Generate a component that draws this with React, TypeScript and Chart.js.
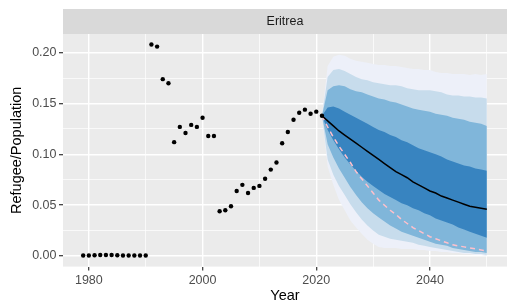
import React, { useEffect, useRef } from "react";
import { Chart, registerables } from "chart.js";

Chart.register(...registerables);

// ---------- data ----------
const PANEL_TITLE = "Eritrea";
const X_TITLE = "Year";
const Y_TITLE = "Refugee/Population";

const OBS_YEARS = [
  1979, 1980, 1981, 1982, 1983, 1984, 1985, 1986, 1987, 1988, 1989, 1990,
  1991, 1992, 1993, 1994, 1995, 1996, 1997, 1998, 1999, 2000, 2001, 2002,
  2003, 2004, 2005, 2006, 2007, 2008, 2009, 2010, 2011, 2012, 2013, 2014,
  2015, 2016, 2017, 2018, 2019, 2020, 2021,
];
const OBS_VALUES = [
  0.0005, 0.0005, 0.0008, 0.001, 0.001, 0.001, 0.0008, 0.0005, 0.0005, 0.0005, 0.0005, 0.0005,
  0.208, 0.206, 0.174, 0.17, 0.112, 0.127, 0.121, 0.129, 0.127, 0.136, 0.118, 0.118,
  0.044, 0.045, 0.049, 0.064, 0.07, 0.062, 0.067, 0.069, 0.076, 0.085, 0.092, 0.111,
  0.122, 0.134, 0.141, 0.144, 0.14, 0.142, 0.138,
];

const FC_YEARS = [
  2021, 2022, 2023, 2024, 2025, 2026, 2027, 2028, 2029, 2030,
  2031, 2032, 2033, 2034, 2035, 2036, 2037, 2038, 2039, 2040,
  2041, 2042, 2043, 2044, 2045, 2046, 2047, 2048, 2049, 2050,
];
const MEDIAN = [
  0.138, 0.133, 0.128, 0.123, 0.119, 0.115, 0.111, 0.107, 0.103, 0.099,
  0.095, 0.091, 0.087, 0.083, 0.08, 0.077, 0.073, 0.07, 0.067, 0.064,
  0.062, 0.059, 0.057, 0.055, 0.053, 0.051, 0.049, 0.048, 0.047, 0.046,
];
const PINK_LINE = [
  0.138, 0.127, 0.117, 0.108, 0.1, 0.092, 0.083, 0.076, 0.069, 0.062,
  0.055, 0.05, 0.045, 0.041, 0.036, 0.032, 0.028, 0.025, 0.022, 0.019,
  0.017, 0.015, 0.013, 0.011, 0.01, 0.009, 0.008, 0.007, 0.006, 0.005,
];
const OUTER_HI = [
  0.138, 0.187, 0.196, 0.198, 0.197, 0.194, 0.192, 0.191, 0.19, 0.189,
  0.188, 0.188, 0.187, 0.187, 0.186, 0.185, 0.184, 0.184, 0.183, 0.183,
  0.181, 0.18, 0.18, 0.179, 0.179, 0.179, 0.178, 0.179, 0.178, 0.179,
];
const LIGHT_HI = [
  0.138, 0.176, 0.183, 0.184, 0.182, 0.179, 0.176, 0.174, 0.173, 0.171,
  0.17, 0.169, 0.168, 0.168, 0.167, 0.165, 0.164, 0.163, 0.163, 0.163,
  0.162, 0.161, 0.159, 0.158, 0.158, 0.157, 0.157, 0.156, 0.156, 0.155,
];
const MED_HI = [
  0.138, 0.163, 0.167, 0.168, 0.167, 0.164, 0.162, 0.161, 0.159, 0.157,
  0.155, 0.154, 0.152, 0.151, 0.149, 0.147, 0.145, 0.144, 0.143, 0.142,
  0.14, 0.139, 0.138, 0.136, 0.135, 0.134, 0.132, 0.131, 0.13, 0.128,
];
const DARK_HI = [
  0.138, 0.146, 0.147, 0.145, 0.142, 0.139, 0.136, 0.133, 0.13, 0.127,
  0.124, 0.122, 0.119, 0.117, 0.114, 0.112, 0.109, 0.106, 0.104, 0.102,
  0.1, 0.098, 0.095, 0.093, 0.091, 0.089, 0.088, 0.086, 0.085, 0.084,
];
const DARK_LO = [
  0.138, 0.124, 0.114, 0.105, 0.097, 0.09, 0.084, 0.078, 0.073, 0.069,
  0.065, 0.061, 0.058, 0.055, 0.052, 0.05, 0.047, 0.045, 0.042, 0.04,
  0.037, 0.035, 0.033, 0.031, 0.028, 0.026, 0.024, 0.022, 0.02, 0.018,
];
const MED_LO = [
  0.138, 0.11, 0.097, 0.086, 0.077, 0.068, 0.06, 0.053, 0.047, 0.042,
  0.038, 0.034, 0.03, 0.027, 0.024, 0.022, 0.02, 0.018, 0.016, 0.014,
  0.012, 0.011, 0.01, 0.008, 0.007, 0.006, 0.005, 0.004, 0.004, 0.003,
];
const LIGHT_LO = [
  0.138, 0.095, 0.08, 0.069, 0.06, 0.051, 0.043, 0.036, 0.03, 0.025,
  0.021, 0.019, 0.017, 0.016, 0.015, 0.014, 0.013, 0.011, 0.01, 0.009,
  0.008, 0.007, 0.006, 0.005, 0.004, 0.003, 0.003, 0.002, 0.002, 0.001,
];
const OUTER_LO = [
  0.138, 0.088, 0.07, 0.055, 0.045, 0.035, 0.028, 0.022, 0.016, 0.012,
  0.009, 0.008, 0.008, 0.008, 0.007, 0.007, 0.007, 0.006, 0.006, 0.005,
  0.005, 0.004, 0.004, 0.003, 0.003, 0.002, 0.002, 0.001, 0.001, 0.0,
];

const X_MAJOR = [1980, 2000, 2020, 2040];
const X_MINOR = [1990, 2010, 2030, 2050];
const Y_MAJOR = [0, 0.05, 0.1, 0.15, 0.2];
const Y_MAJOR_LABELS = ["0.00", "0.05", "0.10", "0.15", "0.20"];
const Y_MINOR = [0.025, 0.075, 0.125, 0.175];

// ---------- styling ----------
const FONT = "'Liberation Sans', Arial, Helvetica, sans-serif";
const X_MIN = 1975.45;
const X_MAX = 2053.55;
const Y_MIN = -0.0104;
const Y_MAX = 0.2184;

const pts = (xs: number[], ys: number[]) => xs.map((x, i) => ({ x, y: ys[i] }));
const isMajor = (v: number, arr: number[]) => arr.some((m) => Math.abs(m - v) < 1e-9);

const bgPlugin = {
  id: "ggbg",
  beforeDraw(chart: any) {
    const { ctx, chartArea } = chart;
    ctx.save();
    ctx.fillStyle = "#FFFFFF";
    ctx.fillRect(0, 0, chart.width, chart.height);
    ctx.fillStyle = "#EBEBEB";
    ctx.fillRect(chartArea.left, chartArea.top, chartArea.right - chartArea.left, chartArea.bottom - chartArea.top);
    ctx.fillStyle = "#D9D9D9";
    ctx.fillRect(chartArea.left, 9, chartArea.right - chartArea.left, chartArea.top - 9);
    ctx.fillStyle = "#1A1A1A";
    ctx.font = `12.5px ${FONT}`;
    ctx.textAlign = "center";
    ctx.textBaseline = "middle";
    ctx.fillText(PANEL_TITLE, (chartArea.left + chartArea.right) / 2, (9 + chartArea.top) / 2 + 0.5);
    ctx.restore();
  },
};

function band(hi: number[], lo: number[], color: string, hiIndex: number, order: number) {
  return [
    {
      data: pts(FC_YEARS, hi),
      borderWidth: 0,
      pointRadius: 0,
      backgroundColor: color,
      borderColor: color,
      fill: hiIndex + 1,
      tension: 0,
      order,
    },
    {
      data: pts(FC_YEARS, lo),
      borderWidth: 0,
      pointRadius: 0,
      backgroundColor: color,
      borderColor: color,
      fill: false,
      tension: 0,
      order,
    },
  ];
}

export default function App() {
  const ref = useRef<HTMLCanvasElement | null>(null);

  useEffect(() => {
    if (!ref.current) return;
    const datasets: any[] = [
      {
        data: pts(OBS_YEARS, OBS_VALUES),
        showLine: false,
        pointRadius: 2.2,
        pointBorderWidth: 0,
        pointBackgroundColor: "#000000",
        pointBorderColor: "#000000",
        fill: false,
        order: 0,
      },
      {
        data: pts(FC_YEARS, MEDIAN),
        borderColor: "#000000",
        borderWidth: 1.5,
        pointRadius: 0,
        fill: false,
        tension: 0,
        order: 1,
      },
      {
        data: pts(FC_YEARS, PINK_LINE),
        borderColor: "#FFC0CB",
        borderWidth: 1.5,
        borderDash: [5, 4],
        pointRadius: 0,
        fill: false,
        tension: 0,
        order: 2,
      },
      ...band(DARK_HI, DARK_LO, "#3884C0", 3, 3),
      ...band(MED_HI, MED_LO, "#80B6DA", 5, 4),
      ...band(LIGHT_HI, LIGHT_LO, "#C7DCEC", 7, 5),
      ...band(OUTER_HI, OUTER_LO, "#EDF0F9", 9, 6),
    ];

    const chart = new Chart(ref.current, {
      type: "line",
      data: { datasets },
      plugins: [bgPlugin],
      options: {
        animation: false,
        responsive: false,
        devicePixelRatio: 1,
        layout: { padding: { top: 34, left: 0, right: 0, bottom: 0 } },
        plugins: {
          legend: { display: false },
          tooltip: { enabled: false },
          title: { display: false },
        },
        scales: {
          x: {
            type: "linear",
            min: X_MIN,
            max: X_MAX,
            afterFit: (s: any) => {
              s.height = 39.4;
            },
            afterBuildTicks: (s: any) => {
              s.ticks = [...X_MAJOR, ...X_MINOR].sort((a, b) => a - b).map((v) => ({ value: v }));
            },
            border: { display: false },
            grid: {
              color: "#FFFFFF",
              lineWidth: (c: any) => (isMajor(c.tick?.value, X_MAJOR) ? 1.4 : 0.7),
              tickColor: (c: any) => (isMajor(c.tick?.value, X_MAJOR) ? "#333333" : "rgba(0,0,0,0)"),
              tickWidth: 1.2,
              tickLength: 4,
              drawTicks: true,
            },
            ticks: {
              autoSkip: false,
              maxRotation: 0,
              padding: 2,
              color: "#4D4D4D",
              font: { family: FONT, size: 12.5 },
              callback: (v: any) => (isMajor(Number(v), X_MAJOR) ? String(v) : ""),
            },
            title: {
              display: true,
              text: X_TITLE,
              color: "#000000",
              font: { family: FONT, size: 14.5 },
              padding: { top: 0, bottom: 1.5 },
            },
          },
          y: {
            type: "linear",
            min: Y_MIN,
            max: Y_MAX,
            afterFit: (s: any) => {
              s.width = 63;
            },
            afterBuildTicks: (s: any) => {
              s.ticks = [...Y_MAJOR, ...Y_MINOR].sort((a, b) => a - b).map((v) => ({ value: v }));
            },
            border: { display: false },
            grid: {
              color: "#FFFFFF",
              lineWidth: (c: any) => (isMajor(c.tick?.value, Y_MAJOR) ? 1.4 : 0.7),
              tickColor: (c: any) => (isMajor(c.tick?.value, Y_MAJOR) ? "#333333" : "rgba(0,0,0,0)"),
              tickWidth: 1.2,
              tickLength: 4,
              drawTicks: true,
            },
            ticks: {
              autoSkip: false,
              padding: 2.5,
              color: "#4D4D4D",
              font: { family: FONT, size: 12.5 },
              callback: (v: any) => {
                const i = Y_MAJOR.findIndex((m) => Math.abs(m - Number(v)) < 1e-9);
                return i >= 0 ? Y_MAJOR_LABELS[i] : "";
              },
            },
            title: {
              display: true,
              text: Y_TITLE,
              color: "#000000",
              font: { family: FONT, size: 14.5 },
              padding: { top: 8.5, bottom: 0 },
            },
          },
        },
      },
    });
    return () => chart.destroy();
  }, []);

  return (
    <div style={{ position: "absolute", left: 0, top: 0, width: 511, height: 306, background: "#fff" }}>
      <canvas ref={ref} width={511} height={306} style={{ width: 511, height: 306, display: "block" }} />
    </div>
  );
}
